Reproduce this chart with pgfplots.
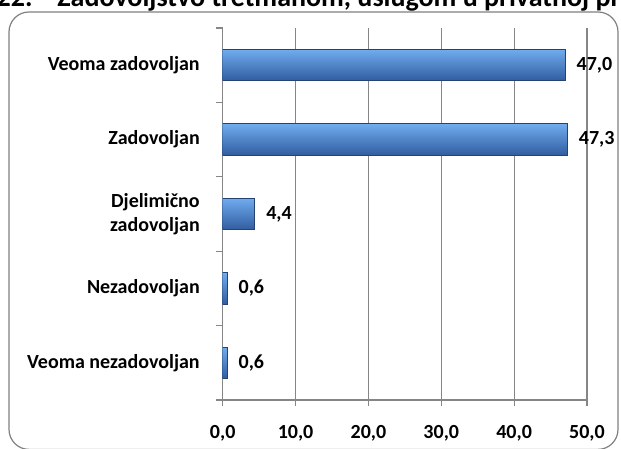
\documentclass[border=0pt]{standalone}
\usepackage{pgfplots}
\pgfplotsset{compat=1.18}
\usepackage{fontspec}
\setmainfont{Carlito}
\definecolor{gridgray}{RGB}{134,134,134}
\definecolor{framegray}{RGB}{128,128,128}
\definecolor{bartop}{RGB}{112,172,238}
\definecolor{barmid}{RGB}{64,124,200}
\definecolor{barbot}{RGB}{48,92,160}
\definecolor{baredge}{RGB}{38,66,115}
\pgfplotsset{mybar/.style={draw=baredge, line width=0.5pt,
    top color=bartop, middle color=barmid, bottom color=barbot,
    nodes near coords,
    nodes near coords style={anchor=west, xshift=2.2pt, font=\fontsize{10}{12}\selectfont\bfseries, black,
      /pgf/number format/.cd, fixed, fixed zerofill, precision=1, use comma, assume math mode=true}}}
\begin{document}
\begin{tikzpicture}
\useasboundingbox (0,0) rectangle (310.5pt,224.5pt);
\clip (0,0) rectangle (310.5pt,224.5pt);
\draw[framegray, line width=0.6pt, rounded corners=10pt] (4.5pt,218.5pt) rectangle (309pt,-0.2pt);
\node[anchor=base west, inner sep=0pt, font=\fontsize{14}{16}\selectfont\bfseries] at (28.5pt,221.25pt) {Zadovoljstvo tretmanom, uslugom u privatnoj praksi};
\node[anchor=base east, inner sep=0pt, font=\fontsize{14}{16}\selectfont\bfseries] at (16.5pt,221.25pt) {Dijagram 22.};
\begin{axis}[
  at={(111.35pt,24.5pt)}, anchor=south west,
  scale only axis, width=182.15pt, height=186pt,
  xbar, bar width=15.75pt, bar shift=0pt,
  xmin=0, xmax=50, ymin=-0.5, ymax=4.5,
  enlargelimits=false,
  axis lines*=left,
  axis line style={gridgray, line width=0.6pt},
  xtick={0,10,...,50},
  xmajorgrids, grid style={gridgray, line width=0.6pt},
  ytick={0,1,2,3,4},
  yticklabels={Veoma nezadovoljan, Nezadovoljan, {Djelimično\\zadovoljan}, Zadovoljan, Veoma zadovoljan},
  minor ytick={-0.5,0.5,...,4.5},
  tick align=outside,
  xtick style={gridgray, line width=0.6pt},
  ytick style={gridgray, line width=0.6pt},
  major tick length=3pt,
  major y tick style={draw=none},
  minor tick length=3.5pt,
  tick label style={font=\fontsize{10}{12}\selectfont\bfseries},
  yticklabel style={align=right, inner sep=0pt, xshift=-8.3pt},
  xticklabel style={yshift=-6pt},
  /pgf/number format/.cd, fixed, fixed zerofill, precision=1, use comma, assume math mode=true,
]
\addplot[mybar] coordinates {(0.6,0)};
\addplot[mybar] coordinates {(0.6,1)};
\addplot[mybar] coordinates {(4.4,2)};
\addplot[mybar] coordinates {(47.3,3)};
\addplot[mybar] coordinates {(47.0,4)};
\end{axis}
\end{tikzpicture}
\end{document}
